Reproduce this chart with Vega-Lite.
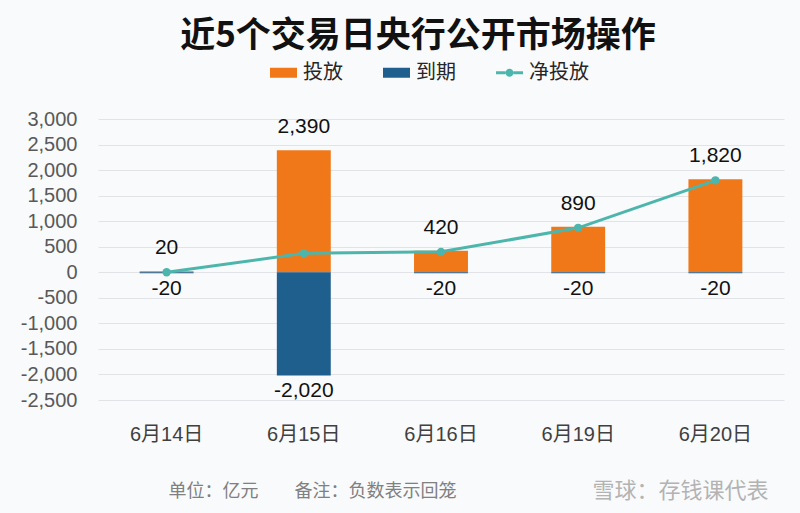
{
  "$schema": "https://vega.github.io/schema/vega-lite/v6.json",
  "autosize": "none",
  "width": 686,
  "height": 281,
  "padding": {"left": 98, "top": 119, "right": 16, "bottom": 113},
  "background": "#f9fafc",
  "title": {
    "text": "近5个交易日央行公开市场操作",
    "font": "Noto Sans CJK SC",
    "fontSize": 35,
    "fontWeight": "bold",
    "color": "#111111",
    "anchor": "middle",
    "frame": "group",
    "dx": -23,
    "baseline": "alphabetic",
    "offset": -23
  },
  "config": {
    "view": {"stroke": null},
    "font": "Liberation Sans",
    "locale": {
      "number": {"decimal": ".", "thousands": ",", "grouping": [3], "currency": ["", ""], "minus": "-"}
    }
  },
  "data": {
    "values": [
      {"date": "6月14日", "type": "投放", "value": 20},
      {"date": "6月14日", "type": "到期", "value": -20},
      {"date": "6月14日", "type": "净投放", "value": 0},
      {"date": "6月15日", "type": "投放", "value": 2390},
      {"date": "6月15日", "type": "到期", "value": -2020},
      {"date": "6月15日", "type": "净投放", "value": 370},
      {"date": "6月16日", "type": "投放", "value": 420},
      {"date": "6月16日", "type": "到期", "value": -20},
      {"date": "6月16日", "type": "净投放", "value": 400},
      {"date": "6月19日", "type": "投放", "value": 890},
      {"date": "6月19日", "type": "到期", "value": -20},
      {"date": "6月19日", "type": "净投放", "value": 870},
      {"date": "6月20日", "type": "投放", "value": 1820},
      {"date": "6月20日", "type": "到期", "value": -20},
      {"date": "6月20日", "type": "净投放", "value": 1800}
    ]
  },
  "encoding": {
    "x": {
      "field": "date",
      "type": "nominal",
      "sort": null,
      "scale": {"paddingInner": 0.607, "paddingOuter": 0.3035},
      "axis": {
        "title": "单位：亿元　　备注：负数表示回笼",
        "titleFont": "Noto Sans CJK SC",
        "titleFontSize": 18,
        "titleFontWeight": "normal",
        "titleColor": "#808080",
        "titleAlign": "left",
        "titleAnchor": null,
        "titleBaseline": "alphabetic",
        "titleX": 70,
        "titleY": 96,
        "labelAngle": 0,
        "labelFont": "Liberation Sans, Noto Sans CJK SC",
        "labelFontSize": 20,
        "labelColor": "#404040",
        "labelPadding": 24,
        "domain": false,
        "ticks": false,
        "tickSize": 0,
        "grid": false
      }
    },
    "y": {
      "field": "value",
      "type": "quantitative",
      "stack": null,
      "scale": {"domain": [-2500, 3000], "nice": false, "zero": true},
      "axis": {
        "title": "雪球：存钱课代表",
        "titleFont": "Noto Sans CJK SC",
        "titleFontSize": 22,
        "titleFontWeight": "normal",
        "titleColor": "#b3b3b3",
        "titleAngle": 0,
        "titleAlign": "left",
        "titleAnchor": null,
        "titleBaseline": "alphabetic",
        "titleX": 494,
        "titleY": 378,
        "values": [-2500, -2000, -1500, -1000, -500, 0, 500, 1000, 1500, 2000, 2500, 3000],
        "format": ",.0f",
        "labelFont": "Liberation Sans",
        "labelFontSize": 20,
        "labelColor": "#595959",
        "labelPadding": 21,
        "domain": false,
        "ticks": false,
        "tickSize": 0,
        "grid": true,
        "gridColor": "#e2e3e6",
        "gridWidth": 1
      }
    }
  },
  "layer": [
    {
      "transform": [{"filter": "datum.type !== '净投放'"}],
      "mark": {"type": "bar"},
      "encoding": {
        "color": {
          "field": "type",
          "type": "nominal",
          "scale": {"domain": ["投放", "到期", "净投放"], "range": ["#f07818", "#1f5f8e", "#4db6ac"]},
          "legend": {
            "title": null,
            "orient": "none",
            "direction": "horizontal",
            "legendX": 172,
            "legendY": -60,
            "padding": 0,
            "columnPadding": 40,
            "symbolSize": 729,
            "symbolType": "M-1,-0.37H1V0.37H-1Z",
            "symbolStrokeWidth": 0,
            "labelOffset": 6,
            "labelFont": "Noto Sans CJK SC",
            "labelFontSize": 20,
            "labelColor": "#262626",
            "encode": {
              "symbols": {
                "update": {
                  "shape": {"signal": "datum.value === '净投放' ? 'M-1,-0.11H-0.3V0.11H-1Z M0.3,-0.11H1V0.11H0.3Z M-0.3,0A0.3,0.3 0 1,1 0.3,0A0.3,0.3 0 1,1 -0.3,0Z' : 'M-1,-0.37H1V0.37H-1Z'"},
                  "size": {"value": 729},
                  "strokeWidth": {"value": 0}
                }
              }
            }
          }
        }
      }
    },
    {
      "transform": [{"filter": "datum.type === '净投放'"}],
      "mark": {"type": "line", "color": "#4db6ac", "strokeWidth": 3, "point": {"filled": true, "size": 70, "color": "#4db6ac"}},
      "encoding": {}
    },
    {
      "transform": [{"filter": "datum.type === '投放'"}],
      "mark": {"type": "text", "baseline": "alphabetic", "dy": -17, "fontSize": 21, "color": "#111111", "font": "Liberation Sans"},
      "encoding": {"text": {"field": "value", "type": "quantitative", "format": ",.0f"}}
    },
    {
      "transform": [{"filter": "datum.type === '到期'"}],
      "mark": {"type": "text", "baseline": "alphabetic", "dy": 22, "fontSize": 21, "color": "#111111", "font": "Liberation Sans"},
      "encoding": {"text": {"field": "value", "type": "quantitative", "format": ",.0f"}}
    }
  ]
}
